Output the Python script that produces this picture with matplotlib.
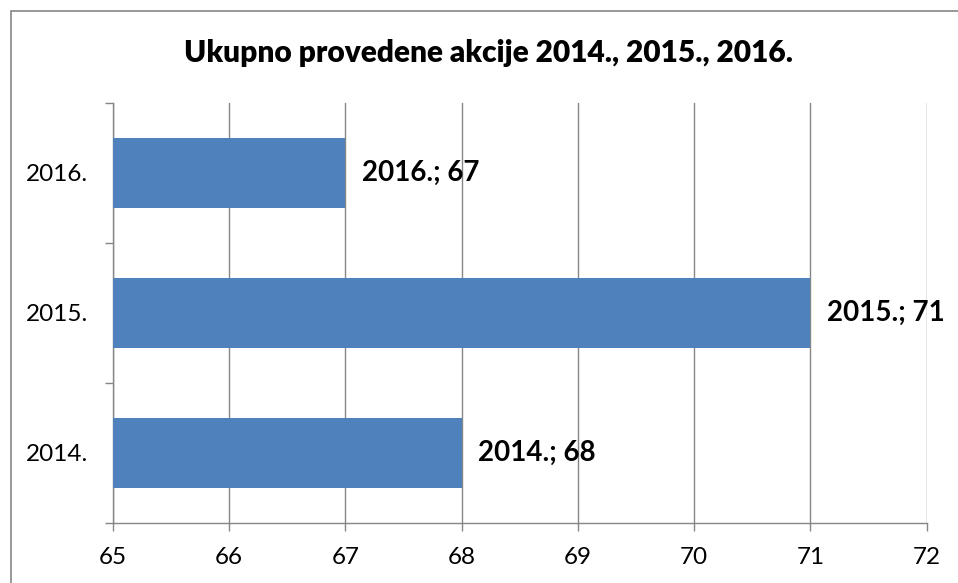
import matplotlib
matplotlib.use('Agg')
import matplotlib.pyplot as plt
from matplotlib.patches import Rectangle

# data
years = ['2014.', '2015.', '2016.']
actions = [68, 71, 67]
x_ticks = [65, 66, 67, 68, 69, 70, 71, 72]
title = 'Ukupno provedene akcije 2014., 2015., 2016.'

plt.rcParams['font.family'] = ['Lato', 'DejaVu Sans']

W, H = 958, 583
fig = plt.figure(figsize=(W / 100, H / 100), dpi=100)
ax = fig.add_axes([113 / W, 1 - 522.5 / H, (926.7 - 113) / W, (522.5 - 103) / H])

GRID = '#868686'
pos = list(range(len(years)))
ax.barh(pos, [a - x_ticks[0] for a in actions], left=x_ticks[0], height=0.5,
        color='#4F81BD', zorder=3)

for p, yr, a in zip(pos, years, actions):
    ax.annotate(f'{yr}; {a}', (a, p), xytext=(12, 0), textcoords='offset points',
                va='center', ha='left', fontsize=20, fontweight='bold',
                color='black', zorder=4)

ax.set_xlim(x_ticks[0], x_ticks[-1])
ax.set_ylim(-0.5, len(years) - 0.5)
ax.set_xticks(x_ticks)
ax.set_xticklabels([str(v) for v in x_ticks], fontsize=17.5)
ax.set_yticks(pos)
ax.set_yticklabels(years, fontsize=17.5)
ax.set_yticks([p - 0.5 for p in pos] + [len(years) - 0.5], minor=True)

ax.tick_params(axis='y', which='major', length=0, pad=18)
ax.tick_params(axis='y', which='minor', length=6, width=1, color=GRID, direction='out')
ax.tick_params(axis='x', length=6, width=1, color=GRID, pad=12)

ax.grid(axis='x', color=GRID, linewidth=1, zorder=0)
ax.set_axisbelow(True)
for side in ['top', 'right']:
    ax.spines[side].set_visible(False)
for side in ['left', 'bottom']:
    ax.spines[side].set_color(GRID)
    ax.spines[side].set_linewidth(1)

fig.text(489 / W, 1 - 62 / H, title, ha='center', va='baseline',
         fontsize=21.5, fontweight='heavy')

# outer chart border (cut off on right/bottom like the original)
fig.patches.append(Rectangle((10.5 / W, -0.1), 1.2, 1 - 10.5 / H + 0.1,
                             transform=fig.transFigure, fill=False,
                             edgecolor=GRID, linewidth=1.2))

fig.savefig('out.png', dpi=100)
